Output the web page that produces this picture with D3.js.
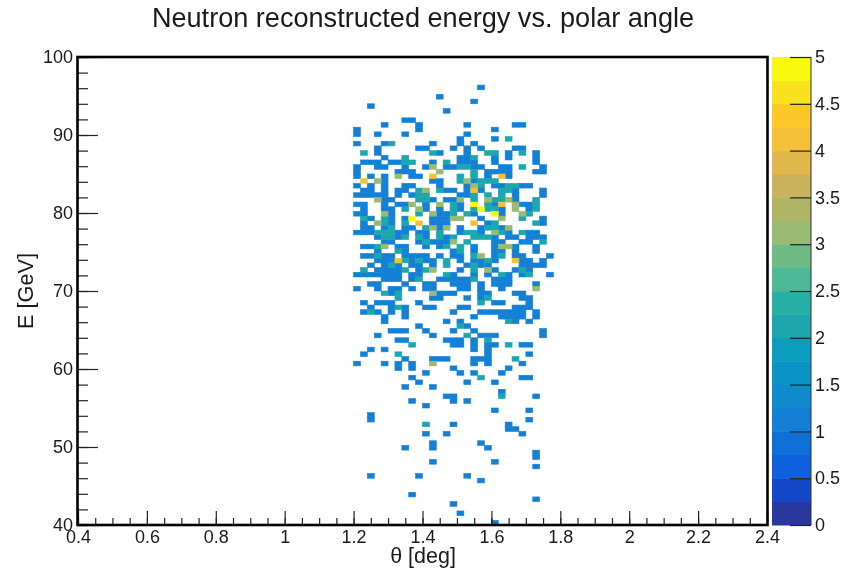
<!DOCTYPE html>
<html>
<head>
<meta charset="utf-8">
<script src="https://cdnjs.cloudflare.com/ajax/libs/d3/7.8.5/d3.min.js"></script>
<style>
  html, body { margin: 0; padding: 0; background: #fff; }
  text { font-family: "Liberation Sans", Arial, sans-serif; fill: #1a1a1a; }
</style>
</head>
<body>
<div id="chart"></div>
<script>
// TH2 binning: 100 x 100 bins, only bins >= 38 in theta are filled
const thetaRange = [0.4, 2.4];
const energyRange = [40, 100];
const binCount = 100;
const firstThetaBin = 38;

const xTicks = [0.4, 0.6, 0.8, 1, 1.2, 1.4, 1.6, 1.8, 2, 2.2, 2.4];
const yTicks = [40, 50, 60, 70, 80, 90, 100];
const zTicks = [0, 0.5, 1, 1.5, 2, 2.5, 3, 3.5, 4, 4.5, 5];

// 20 contour levels of the palette, bottom to top
const levelColors = ["#2a389e", "#1448c8", "#0e60dc", "#0f6fd8", "#1380d6", "#0f8bcd", "#0b94c6", "#0a9dbd",
  "#1ca7ae", "#27b0a6", "#4eb996", "#6fbb85", "#97bb70", "#b0b566", "#c9b35d", "#e0b84c",
  "#f3c03a", "#fdc827", "#fbe21e", "#f9f90e"];

// each row: [energy bin, [theta bins relative to firstThetaBin]]
const hits1 = [
  [93,[20]], [91,[14]], [90,[19]], [89,[4]], [88,[15]], [86,[9,10]], [85,[6,11,18,25,26]], [84,[2,11,22]],
  [83,[2,5,9,18]], [82,[17,22]], [81,[2,6,13,17,19]], [80,[5,11,12,16,18,20,25,26]],
  [79,[5,14,18,24,28]], [78,[6,17,18,22,24,28]], [77,[3,4,5,7,8,13,17,18,19,22,28]],
  [76,[2,5,6,9,12,15,16,19,20,23,24,29]], [75,[2,8,9,10,21,22,23,24,28,29]], [74,[2,4,6,10,11,21,24]],
  [73,[6,13,14,19]], [72,[2,4,6,9,10,14,18,22,23,26,27]], [71,[3,4,6,8,9,15,16,18,20,25,29]],
  [70,[2,3,4,5,6,8,10,17,18,25,29]], [69,[6,7,13,15,16,25]], [68,[2,3,6,8,9,12,17,22,26,27]],
  [67,[3,6,7,12,14,17,23,27]], [66,[2,3,7,14,15,19,23]], [65,[4,7,9,13,14,15,20,29]],
  [64,[3,7,13,14,15,21,29]], [63,[3,4,6,9,10,14,17,20,23]], [62,[2,3,4,8,9,11,12,17,20,24,27,28]],
  [61,[5,8,12,15,22,24,25,27,28,29]], [60,[6,7,11,13,14,15,22,23,26,27]], [59,[3,4,8,9,12,14,19,22,25,28]],
  [58,[5,9,16,19,22,23,25,28]], [57,[3,4,6,7,9,10,11,12,14,16,17,22,25,26,30]],
  [56,[5,6,7,10,12,13,17,19,20,22,26,27,29]], [55,[4,6,8,10,11,13,18,20,21,26,27,28,29]],
  [54,[5,6,7,8,11,17,22,25,27]], [53,[2,3,4,5,6,7,8,10,11,16,19,21,24,26,30]],
  [52,[6,7,8,10,14,15,16,17,18,22,23,24]], [51,[4,5,9,12,13,16,17,18,20,22,23,24,28]],
  [50,[2,5,7,8,10,12,13,17,18,20,23]], [49,[7,14,15,16,20,21,25,26]], [48,[13,14,18,20,26,27]],
  [47,[3,5,6,7,11,22,23,27]], [46,[4,7,9,12,13,17,18,25,26,27]], [45,[3,5,7,9,16,20,21,22,23,24,25,26,28]],
  [44,[6,9,19,23,24,25,26,28]], [43,[6,15,17,25,27]], [42,[11,18]], [41,[7,8,9,12,16,19,29]],
  [40,[5,13,20,21,22,29]], [39,[8,9,15,16,17,19]], [38,[16,17,19,21,22,26,27]], [37,[4,6,19,21]],
  [36,[3,21,27]], [35,[9,13,14,15,19,20,21]], [34,[2,6,8,10,19,21,26]], [33,[8,10,16,24]],
  [32,[12,17,19,23]], [31,[10,26,27]], [30,[11,18,22]], [29,[9,13]], [28,[23]], [27,[15,16,28]],
  [26,[10,16,18]], [25,[12]], [24,[22,27]], [23,[4]], [22,[4,27]], [21,[16,24]], [20,[24,25]],
  [19,[12,15,26]], [17,[13,20]], [16,[9,13,21]], [15,[28]], [14,[28]], [13,[13,22]], [12,[28]],
  [10,[4,11,18]], [9,[20]], [6,[10]], [5,[28]], [4,[16]], [2,[17]], [0,[22]]
];
const hits2 = [
  [82,[24]], [81,[7]], [79,[3,13,21,22,26]], [78,[9,19]], [77,[9,10,15]], [76,[17,18,26]], [75,[19]],
  [74,[17,19]], [73,[17,20,21,22]], [72,[20,24,25]], [71,[11,14,23,24]], [70,[11,12,19,21,23]],
  [69,[11,12,19,22,23,28]], [68,[16,21,28]], [67,[9,16,19,21,22,28]], [66,[11,16,18,27]], [65,[3,6,26]],
  [64,[6,9,22,28]], [63,[7,12,21,22]], [62,[5,6,7,14,18,19,23,26]], [61,[6,7,9,11,14,16,19,20,21]],
  [60,[12,18,29]], [59,[5,15,17]], [58,[8,17]], [57,[5,19,23]], [56,[9,11,15,21]], [55,[7,15,19]],
  [54,[3,9,12,19,26]], [53,[15,23,27]], [52,[11,19]], [49,[6,8]], [48,[8,21]], [47,[20]], [46,[8]],
  [45,[4]], [43,[24]], [42,[17]], [40,[18]], [39,[21]], [38,[10,24]], [36,[8]], [35,[25]], [31,[20]],
  [27,[23]], [21,[12]]
];
const hits3 = [
  [76,[13]], [75,[14]], [74,[8]], [73,[5,18]], [72,[19]], [71,[12]], [69,[5,17,21,24]], [68,[10,14,25]],
  [67,[11,25]], [66,[6,13,26]], [65,[16,17,23]], [64,[5]], [63,[13,15,24]], [62,[22]], [60,[16]],
  [59,[6,23,24]], [57,[20]], [54,[13,21]], [50,[28]], [49,[13]], [34,[13]]
];
const hits4 = [[74,[13,23]], [73,[3]], [71,[19]], [68,[23]], [64,[11,19]], [56,[8,25]]];
const hits5 = [[68,[19]], [67,[20]], [66,[22]], [65,[10]]];

const hitLists = [hits1, hits2, hits3, hits4, hits5];

const width = 842, height = 570;
const frame = { left: 78, right: 767, top: 57, bottom: 525 };
const bar = { left: 772, right: 811 };

const svg = d3.select("#chart").append("svg")
  .attr("width", width)
  .attr("height", height)
  .style("display", "block")
  .style("filter", "blur(0.35px)");

const xScale = d3.scaleLinear().domain(thetaRange).range([frame.left, frame.right]);
const yScale = d3.scaleLinear().domain(energyRange).range([frame.bottom, frame.top]);
const zScale = d3.scaleLinear().domain([0, 5]).range([frame.bottom, frame.top]);
const colorScale = d3.scaleQuantize().domain([0, 5]).range(levelColors);

const thetaStep = (thetaRange[1] - thetaRange[0]) / binCount;
const energyStep = (energyRange[1] - energyRange[0]) / binCount;

// flatten the rows into one list of filled bins
const cells = hitLists.flatMap((rows, k) => rows.flatMap(([eBin, thetaBins]) =>
  thetaBins.map(tBin => ({
    theta: thetaRange[0] + (firstThetaBin + tBin) * thetaStep,
    energy: energyRange[0] + eBin * energyStep,
    count: k + 1
  }))));

// cells, a thin stroke of the same colour closes the seams between neighbours
svg.append("g").selectAll("rect")
  .data(cells)
  .enter()
  .append("rect")
  .attr("x", d => xScale(d.theta))
  .attr("y", d => yScale(d.energy + energyStep))
  .attr("width", xScale(thetaRange[0] + thetaStep) - xScale(thetaRange[0]))
  .attr("height", yScale(energyRange[0]) - yScale(energyRange[0] + energyStep))
  .attr("fill", d => colorScale(d.count))
  .attr("stroke", d => colorScale(d.count))
  .attr("stroke-width", 0.6);

// minor ticks first, the majors and labels go on top
const xMinor = d3.range(thetaRange[0], thetaRange[1] + 0.001, 0.05);
const yMinor = d3.range(energyRange[0], energyRange[1] + 0.001, 2);

svg.append("g")
  .attr("transform", `translate(0, ${frame.bottom})`)
  .call(d3.axisBottom(xScale).tickValues(xMinor).tickSize(-7).tickFormat(""))
  .call(g => g.select(".domain").remove())
  .selectAll("line").attr("stroke", "#222").attr("stroke-width", 1.2);

svg.append("g")
  .attr("transform", `translate(${frame.left}, 0)`)
  .call(d3.axisLeft(yScale).tickValues(yMinor).tickSize(-10).tickFormat(""))
  .call(g => g.select(".domain").remove())
  .selectAll("line").attr("stroke", "#222").attr("stroke-width", 1.2);

const xAxis = svg.append("g")
  .attr("transform", `translate(0, ${frame.bottom})`)
  .call(d3.axisBottom(xScale).tickValues(xTicks).tickSize(-14).tickPadding(5).tickFormat(d3.format("~g")));

const yAxis = svg.append("g")
  .attr("transform", `translate(${frame.left}, 0)`)
  .call(d3.axisLeft(yScale).tickValues(yTicks).tickSize(-20).tickPadding(5));

[xAxis, yAxis].forEach(axis => {
  axis.select(".domain").remove();
  axis.selectAll("line").attr("stroke", "#222").attr("stroke-width", 1.2);
  axis.selectAll("text").style("font-size", "18px");
});

// frame
svg.append("rect")
  .attr("x", frame.left - 0.5)
  .attr("y", frame.top)
  .attr("width", frame.right - frame.left + 1)
  .attr("height", frame.bottom - frame.top)
  .attr("fill", "none")
  .attr("stroke", "#000")
  .attr("stroke-width", 2.6);

// palette
svg.append("g").selectAll("rect")
  .data(levelColors)
  .enter()
  .append("rect")
  .attr("x", bar.left)
  .attr("y", (d, i) => zScale((i + 1) * 0.25))
  .attr("width", bar.right - bar.left)
  .attr("height", zScale(0) - zScale(0.25) + 0.5)
  .attr("fill", d => d);

const zAxis = svg.append("g")
  .attr("transform", `translate(${bar.right}, 0)`)
  .call(d3.axisRight(zScale).tickValues(zTicks).tickSize(-21).tickPadding(4).tickFormat(d3.format("~g")));

zAxis.select(".domain").attr("stroke", "#333").attr("d", `M0,${frame.top}V${frame.bottom}`);
zAxis.selectAll("line").attr("stroke", "#222").attr("stroke-width", 1.2);
zAxis.selectAll("text").style("font-size", "18px");

// titles
svg.append("text")
  .text("Neutron reconstructed energy vs. polar angle")
  .attr("x", 423)
  .attr("y", 27)
  .style("font-size", "27.1px")
  .style("text-anchor", "middle");

svg.append("text")
  .text("θ [deg]")
  .attr("x", 423)
  .attr("y", 563)
  .style("font-size", "21.5px")
  .style("text-anchor", "middle");

svg.append("text")
  .text("E [GeV]")
  .attr("transform", "translate(33, 291) rotate(-90)")
  .style("font-size", "21.7px")
  .style("text-anchor", "middle");
</script>
</body>
</html>
